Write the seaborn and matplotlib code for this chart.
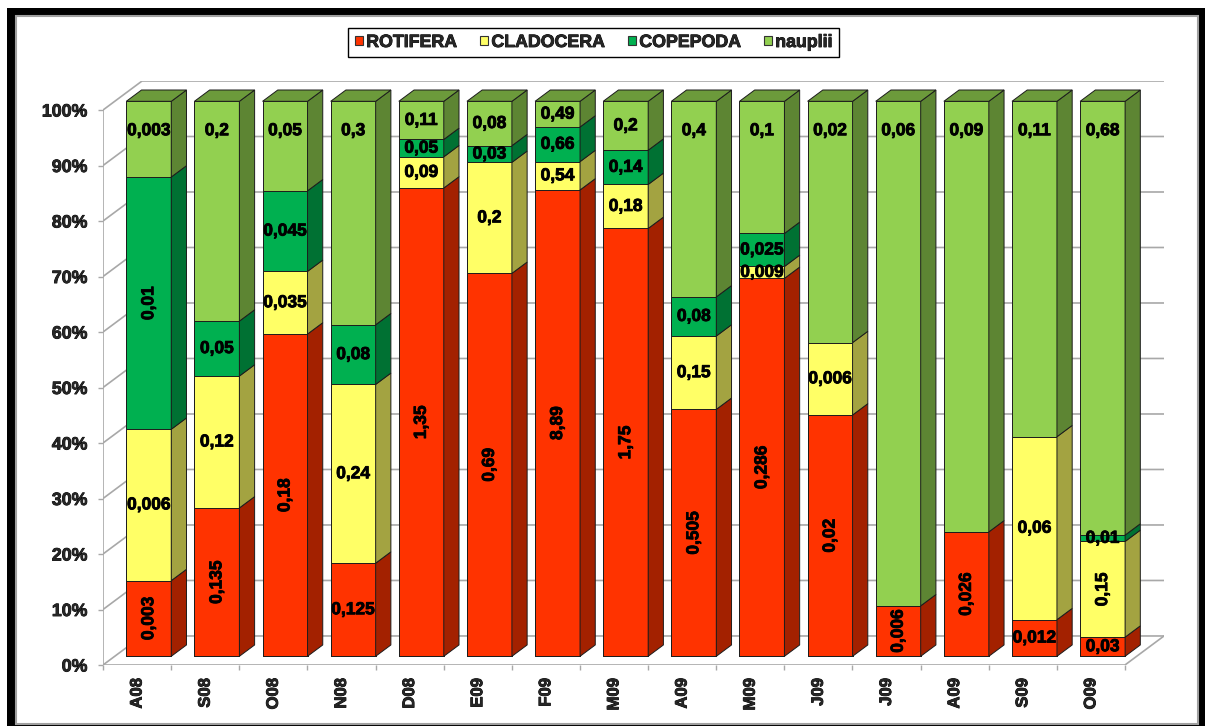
import numpy as np
import matplotlib
matplotlib.use("Agg")
import matplotlib.pyplot as plt
from matplotlib import font_manager as fm
from matplotlib import patheffects as pe
from matplotlib.patches import Polygon, Rectangle, Patch
import seaborn as sns

# Sampling months (some month initials repeat across the two years)
categories = ["A08", "S08", "O08", "N08", "D08", "E09", "F09", "M09",
              "A09", "M09", "J09", "J09", "A09", "S09", "O09"]
series_names = ["ROTIFERA", "CLADOCERA", "COPEPODA", "nauplii"]

rotifera = [0.003, 0.135, 0.18, 0.125, 1.35, 0.69, 8.89, 1.75,
            0.505, 0.286, 0.02, 0.006, 0.026, 0.012, 0.03]
cladocera = [0.006, 0.12, 0.035, 0.24, 0.09, 0.2, 0.54, 0.18,
             0.15, 0.009, 0.006, 0.0, 0.0, 0.06, 0.15]
copepoda = [0.01, 0.05, 0.045, 0.08, 0.05, 0.03, 0.66, 0.14,
            0.08, 0.025, 0.0, 0.0, 0.0, 0.0, 0.01]
nauplii = [0.003, 0.2, 0.05, 0.3, 0.11, 0.08, 0.49, 0.2,
           0.4, 0.1, 0.02, 0.06, 0.09, 0.11, 0.68]

y_ticks = [0, 10, 20, 30, 40, 50, 60, 70, 80, 90, 100]

# Labels written vertically: (series index, sample index)
rotated_labels = {(0, 0), (0, 1), (0, 2), (0, 4), (0, 5), (0, 6), (0, 7),
                  (0, 8), (0, 9), (0, 10), (0, 11), (0, 12),
                  (1, 14), (2, 0)}

front_colors = ["#FF3300", "#FFFF66", "#00B050", "#92D050"]


def shade(hex_color, f):
    r, g, b = matplotlib.colors.to_rgb(hex_color)
    return (r * f, g * f, b * f)


def bold_family(candidates):
    """First family whose bold face resolves to a real bold font file."""
    for fam in candidates:
        try:
            path = fm.findfont(fm.FontProperties(family=fam, weight="bold"),
                               fallback_to_default=False)
        except Exception:
            continue
        if "bold" in path.lower():
            return fam
    return "DejaVu Sans"


side_colors = [shade(c, 0.64) for c in front_colors]
top_colors = [shade(c, 0.74) for c in front_colors]
EDGE = "#1c1c1c"
GRID = "#a8a8a8"
HEAVY = [pe.withStroke(linewidth=0.6, foreground="black")]

sns.set_style("white")
FAMILY = bold_family(["Liberation Sans", "Arimo", "Roboto", "Open Sans",
                      "Lato", "Inter", "DejaVu Sans"])
plt.rcParams["font.family"] = [FAMILY, "DejaVu Sans"]
plt.rcParams["font.weight"] = "bold"

W, H = 1205, 726
fig = plt.figure(figsize=(W / 100, H / 100), dpi=100)
fig.patch.set_facecolor("white")

# chart frame: heavy black border with a thin grey inner edge
fig.patches.append(Rectangle((7 / W, 0), (W - 7) / W, (H - 8) / H,
                             transform=fig.transFigure, facecolor="black",
                             edgecolor="none", zorder=-20))
fig.patches.append(Rectangle((16 / W, 2 / H), (1198 - 16) / W, (724 - 16) / H,
                             transform=fig.transFigure, facecolor="white",
                             edgecolor="#a0a0a0", linewidth=1.5, zorder=-19))

n = len(categories)
DEPTH_X, DEPTH_Y = 0.573, 5.23      # full depth of the 3-D box (x in slots, y in %)
BAR_FRONT, BAR_DEPTH = 0.30, 0.39   # bar position inside the depth
BAR_W = 0.66
TOP_LABEL_DROP = 5.3                # max distance of top-segment labels below bar top

ax = fig.add_axes([103 / W, 61 / H, 1061 / W, 584 / H])
ax.patch.set_visible(False)

values = np.array([rotifera, cladocera, copepoda, nauplii], dtype=float)
share = values / values.sum(axis=0) * 100
tops = np.cumsum(share, axis=0)
bottoms = tops - share

ox, oy = BAR_FRONT * DEPTH_X, BAR_FRONT * DEPTH_Y
dx, dy = BAR_DEPTH * DEPTH_X, BAR_DEPTH * DEPTH_Y
x_pos = np.arange(n)

# front faces: cumulative bars overlaid from the top series down
for k in reversed(range(len(series_names))):
    start = len(ax.patches)
    sns.barplot(x=x_pos, y=tops[k], color=front_colors[k], saturation=1,
                width=BAR_W, errorbar=None, edgecolor=EDGE, linewidth=0.7,
                ax=ax, zorder=3)
    for p in ax.patches[start:]:
        p.set_x(p.get_x() + ox)
        p.set_y(p.get_y() + oy)

# side and top faces
for i in range(n):
    xl = i + ox - BAR_W / 2
    xr = i + ox + BAR_W / 2
    top_k = 0
    for k in range(len(series_names)):
        if share[k, i] <= 0:
            continue
        top_k = k
        lo, hi = bottoms[k, i] + oy, tops[k, i] + oy
        ax.add_patch(Polygon([(xr, lo), (xr + dx, lo + dy), (xr + dx, hi + dy), (xr, hi)],
                             closed=True, facecolor=side_colors[k], edgecolor=EDGE,
                             linewidth=0.7, zorder=3))
    t = tops[top_k, i] + oy
    ax.add_patch(Polygon([(xl, t), (xl + dx, t + dy), (xr + dx, t + dy), (xr, t)],
                         closed=True, facecolor=top_colors[top_k], edgecolor=EDGE,
                         linewidth=0.7, zorder=3))

# value labels
last = len(series_names) - 1
for k in range(len(series_names)):
    for i in range(n):
        v = values[k, i]
        if v <= 0:
            continue
        half = share[k, i] / 2
        if k == last:
            y = tops[k, i] - min(half, TOP_LABEL_DROP)
        else:
            y = bottoms[k, i] + half
        txt = f"{v:g}".replace(".", ",")
        ax.text(i + ox, y + oy, txt,
                rotation=90 if (k, i) in rotated_labels else 0,
                ha="center", va="center", fontsize=12.5, fontweight="bold",
                color="black", zorder=5, path_effects=HEAVY)

# walls, floor and gridlines
x0, x1 = -0.5, n - 0.5
for t in y_ticks:
    ax.plot([x0, x0 + DEPTH_X, x1 + DEPTH_X], [t, t + DEPTH_Y, t + DEPTH_Y],
            color=GRID, linewidth=1.2, zorder=1, solid_capstyle="butt")
ax.plot([x0, x1, x1 + DEPTH_X], [0, 0, DEPTH_Y], color=GRID, linewidth=1.2, zorder=1)
ax.plot([x0, x0], [0, 100], color=GRID, linewidth=1.2, zorder=1)

ax.set_xlim(x0, x1 + DEPTH_X)
ax.set_ylim(0, 100 + DEPTH_Y)
for s in ax.spines.values():
    s.set_visible(False)

ax.set_yticks(y_ticks)
ax.set_yticklabels([f"{t}%" for t in y_ticks], fontweight="bold")
ax.tick_params(axis="y", length=3.6, width=1, color=GRID, pad=7.5,
               labelsize=12.8, left=True)

ax.set_xticks(np.arange(n + 1) - 0.5)
ax.set_xticklabels([])
ax.set_xticks(x_pos, minor=True)
ax.set_xticklabels(categories, minor=True, rotation=90, fontsize=12,
                   fontweight="bold")
ax.tick_params(axis="x", which="major", length=3.6, width=1, color=GRID,
               bottom=True)
ax.tick_params(axis="x", which="minor", length=0, pad=9.5)
ax.set_xlabel("")
ax.set_ylabel("")
ax.grid(False)
for lab in ax.get_yticklabels() + ax.get_xticklabels(minor=True):
    lab.set_path_effects(HEAVY)

handles = [Patch(facecolor=c, edgecolor="#333333", linewidth=0.8, label=name)
           for c, name in zip(front_colors, series_names)]
leg = ax.legend(handles=handles, ncol=4, loc="center",
                bbox_to_anchor=(593.5 / W, 1 - 42.5 / H),
                bbox_transform=fig.transFigure, frameon=True, fancybox=False,
                edgecolor="black", framealpha=1,
                prop=dict(weight="bold", size=12.8),
                handlelength=0.45, handleheight=0.45, handletextpad=0.2,
                columnspacing=1.3, borderpad=0.35)
leg.get_frame().set_linewidth(1.0)
for lab in leg.get_texts():
    lab.set_path_effects(HEAVY)

fig.savefig("out.png", dpi=100, facecolor="white")
